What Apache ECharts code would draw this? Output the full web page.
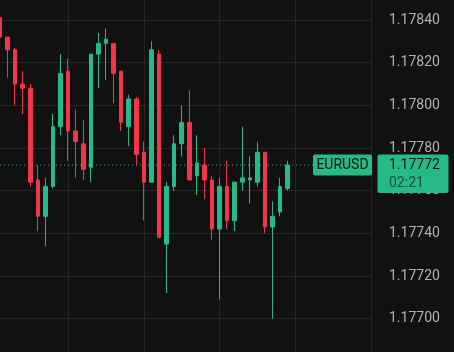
<!DOCTYPE html>
<html>
<head>
<meta charset="utf-8">
<style>
  html, body { margin: 0; padding: 0; background: #111111; }
  #main { width: 454px; height: 352px; }
</style>
<script src="https://cdn.jsdelivr.net/npm/echarts@6/dist/echarts.min.js"></script>
</head>
<body>
<div id="main"></div>
<script>
// slots on the time axis (39 candles + empty space to the right)
const slots = Array.from({ length: 50 }, (_, i) => 'bar ' + i)

const openPrices = [
  1.17841, 1.17832, 1.17826, 1.17810, 1.17808, 1.17765, 1.17748, 1.17762, 1.17790, 1.17816,
  1.17788, 1.17782, 1.17771, 1.17824, 1.17829, 1.17829, 1.17816, 1.17790, 1.17803, 1.17778,
  1.17764, 1.17824, 1.17735, 1.17762, 1.17782, 1.17792, 1.17767, 1.17772, 1.17765, 1.17742,
  1.17762, 1.17746, 1.17764, 1.17765, 1.17764, 1.17778, 1.17743, 1.17750, 1.17761
]
const closePrices = [
  1.17832, 1.17826, 1.17810, 1.17808, 1.17764, 1.17748, 1.17762, 1.17790, 1.17815, 1.17788,
  1.17783, 1.17770, 1.17824, 1.17829, 1.17831, 1.17815, 1.17792, 1.17803, 1.17777, 1.17764,
  1.17826, 1.17738, 1.17762, 1.17782, 1.17792, 1.17765, 1.17773, 1.17765, 1.17742, 1.17762,
  1.17746, 1.17764, 1.17766, 1.17766, 1.17778, 1.17743, 1.17748, 1.17762, 1.17772
]
const lowPrices = [
  1.17830, 1.17813, 1.17800, 1.17796, 1.17762, 1.17741, 1.17734, 1.17761, 1.17786, 1.17774,
  1.17766, 1.17765, 1.17764, 1.17808, 1.17812, 1.17801, 1.17788, 1.17781, 1.17772, 1.17746,
  1.17764, 1.17738, 1.17712, 1.17760, 1.17776, 1.17765, 1.17758, 1.17756, 1.17737, 1.17709,
  1.17742, 1.17741, 1.17760, 1.17754, 1.17762, 1.17740, 1.17700, 1.17748, 1.17760
]
const highPrices = [
  1.17844, 1.17832, 1.17827, 1.17816, 1.17810, 1.17772, 1.17766, 1.17796, 1.17824, 1.17822,
  1.17798, 1.17793, 1.17824, 1.17834, 1.17836, 1.17829, 1.17816, 1.17805, 1.17804, 1.17783,
  1.17830, 1.17826, 1.17764, 1.17786, 1.17800, 1.17807, 1.17786, 1.17780, 1.17767, 1.17766,
  1.17774, 1.17764, 1.17790, 1.17776, 1.17783, 1.17778, 1.17755, 1.17766, 1.17774
]

const symbol = 'EURUSD'
const lastPrice = closePrices[closePrices.length - 1]
const countdown = '02:21'

const yMin = 1.17680
const yMax = 1.17860
const yStep = 0.0002

const up = '#26ba86'
const down = '#f23645'
const gridColor = '#262626'

const candles = openPrices.map((o, i) => [o, closePrices[i], lowPrices[i], highPrices[i]])
// horizontal last-price line across the whole time axis
const priceLine = [[0, lastPrice], [slots.length - 1, lastPrice]]

const chartDom = document.getElementById('main')
const myChart = echarts.init(chartDom, null, { renderer: 'canvas' })

const option = {
  backgroundColor: '#111111',
  animation: false,
  grid: {
    left: 0,
    right: 83,
    top: -22.67,
    bottom: -9.36,
    containLabel: false,
    outerBoundsMode: 'none'
  },
  xAxis: {
    type: 'category',
    data: slots,
    boundaryGap: false,
    axisLine: { show: false },
    axisTick: { show: false },
    axisLabel: { show: false },
    splitLine: {
      show: true,
      interval: function (index) { return index % 10 === 9 },
      lineStyle: { color: gridColor, width: 1 }
    }
  },
  yAxis: {
    type: 'value',
    position: 'right',
    min: yMin,
    max: yMax,
    interval: yStep,
    axisLine: { show: false },
    axisTick: { show: false },
    axisLabel: {
      margin: 18,
      color: '#b2b2b2',
      fontSize: 14,
      fontFamily: 'Roboto',
      formatter: function (v) { return v.toFixed(5) }
    },
    splitLine: { lineStyle: { color: gridColor, width: 1 } }
  },
  series: [
    {
      type: 'line',
      data: priceLine,
      silent: true,
      showSymbol: false,
      symbol: 'none',
      z: 1,
      lineStyle: { color: up, type: [1, 3], width: 1 }
    },
    {
      type: 'candlestick',
      data: candles,
      barWidth: 4,
      clip: true,
      silent: true,
      z: 2,
      itemStyle: {
        color: up,
        color0: down,
        borderColor: up,
        borderColor0: down,
        borderWidth: 1
      }
    }
  ]
}
myChart.setOption(option)

// price tag boxes on the last price line
const py = myChart.convertToPixel({ yAxisIndex: 0 }, lastPrice)
myChart.setOption({
  graphic: [
    {
      type: 'rect',
      z: 100,
      shape: { x: 313, y: py - 10.5, width: 59, height: 21, r: 2 },
      style: { fill: up }
    },
    {
      type: 'text',
      z: 101,
      x: 342.5,
      y: py,
      style: {
        text: symbol,
        fill: '#111111',
        font: '14px Roboto',
        align: 'center',
        verticalAlign: 'middle'
      }
    },
    {
      type: 'rect',
      z: 100,
      shape: { x: 377.5, y: py - 10.5, width: 71, height: 38.5, r: 2 },
      style: { fill: up }
    },
    {
      type: 'text',
      z: 101,
      x: 389,
      y: py,
      style: {
        text: lastPrice.toFixed(5),
        fill: '#111111',
        font: '14px Roboto',
        align: 'left',
        verticalAlign: 'middle'
      }
    },
    {
      type: 'text',
      z: 101,
      x: 389,
      y: py + 18,
      style: {
        text: countdown,
        fill: 'rgba(17,17,17,0.65)',
        font: '14px Roboto',
        align: 'left',
        verticalAlign: 'middle'
      }
    }
  ]
})

window.addEventListener('resize', () => {
  myChart.resize()
})
</script>
</body>
</html>
